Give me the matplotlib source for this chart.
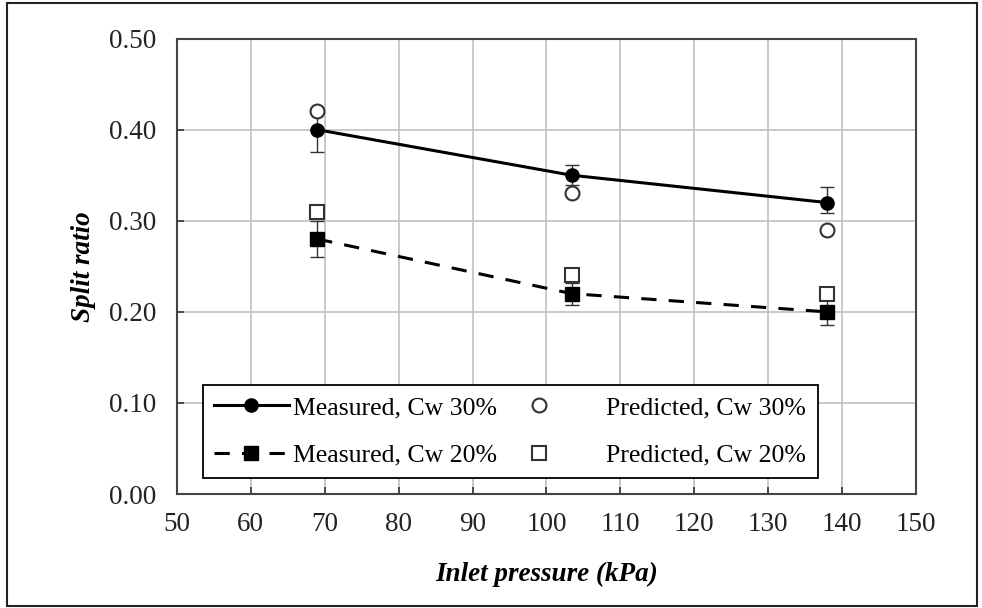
import numpy as np
import matplotlib.pyplot as plt
from matplotlib.patches import Rectangle

# data
pressure = [69.0, 103.4, 137.9]
meas_30 = [0.40, 0.35, 0.32]
meas_30_err_lo = [0.024, 0.011, 0.011]
meas_30_err_hi = [0.024, 0.011, 0.017]
meas_20 = [0.28, 0.22, 0.20]
meas_20_err_lo = [0.020, 0.012, 0.014]
meas_20_err_hi = [0.020, 0.012, 0.014]
pred_30 = [0.42, 0.33, 0.29]
pred_20 = [0.31, 0.24, 0.22]

plt.rcParams['font.family'] = ['Liberation Serif', 'DejaVu Serif']

fig = plt.figure(figsize=(9.82, 6.08), dpi=100)
ax = fig.add_axes([0.180, 0.1875, 0.753, 0.749])

# outer frame of the picture
fig.patches.append(Rectangle((0.007, 0.003), 0.988, 0.992, transform=fig.transFigure,
                             fill=False, edgecolor='#222222', linewidth=1.5))

ax.errorbar(pressure, meas_30, yerr=[meas_30_err_lo, meas_30_err_hi], fmt='none',
            ecolor='#333333', elinewidth=1.0, capsize=5, capthick=1.0, zorder=3)
ax.errorbar(pressure, meas_20, yerr=[meas_20_err_lo, meas_20_err_hi], fmt='none',
            ecolor='#333333', elinewidth=1.0, capsize=5, capthick=1.0, zorder=3)

ax.plot(pressure, meas_30, '-', color='black', lw=2.2, marker='o', ms=9.5,
        label='Measured, Cw 30%', zorder=4)
ax.plot(pressure, pred_30, 'o', mfc='white', mec='#333333', mew=1.5, ms=10,
        label='    Predicted, Cw 30%', zorder=5)
ax.plot(pressure, meas_20, '--', color='black', lw=2.2, dashes=(5, 4), marker='s', ms=9.5,
        label='Measured, Cw 20%', zorder=4)
ax.plot(pressure, pred_20, 's', mfc='white', mec='#333333', mew=1.5, ms=10,
        label='    Predicted, Cw 20%', zorder=5)

ax.set_xlim(50, 150)
ax.set_ylim(0, 0.5)
ax.set_xticks(np.arange(50, 151, 10))
ax.set_yticks(np.arange(0, 0.51, 0.1))
ax.set_yticklabels(['%.2f' % v for v in np.arange(0, 0.51, 0.1)])
ax.grid(True, color='#c0c0c0', lw=1.2)
ax.set_axisbelow(True)
ax.tick_params(direction='in', length=5, width=1.2, colors='#333333', labelsize=19.5,
               labelcolor='#222222')
ax.tick_params(axis='x', pad=13)
ax.tick_params(axis='y', pad=15)
for s in ax.spines.values():
    s.set_color('#444444')
    s.set_linewidth(1.5)

ax.set_xlabel('Inlet pressure (kPa)', fontsize=19.5, fontweight='bold', style='italic', labelpad=18)
ax.set_ylabel('Split ratio', fontsize=19.5, fontweight='bold', style='italic', labelpad=9)

h, l = ax.get_legend_handles_labels()
order = [0, 2, 1, 3]
leg = ax.legend([h[i] for i in order], [l[i] for i in order], ncol=2,
                loc='lower left', bbox_to_anchor=(0.035, 0.035), fontsize=18.5,
                frameon=True, fancybox=False, edgecolor='black', framealpha=1,
                handlelength=2.9, handletextpad=0.15, columnspacing=0.2,
                labelspacing=0.95, borderpad=0.45, borderaxespad=0)
leg.get_frame().set_linewidth(1.3)

fig.savefig('out.png', dpi=100)
